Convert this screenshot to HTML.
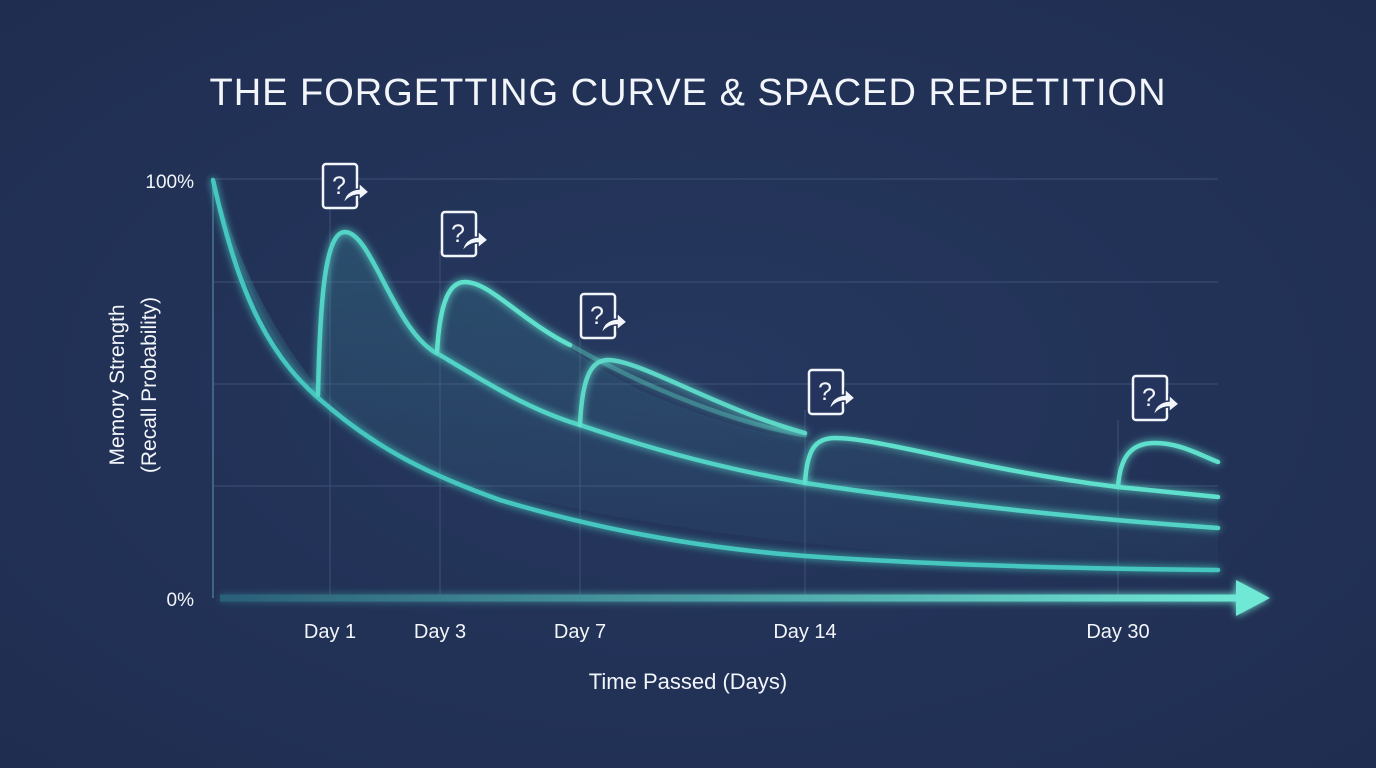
<!DOCTYPE html>
<html><head><meta charset="utf-8"><style>
html,body{margin:0;padding:0;width:1376px;height:768px;overflow:hidden;background:#23335a;}
svg{display:block}
text{font-family:"Liberation Sans",sans-serif;fill:#f2f5fa}
</style></head><body>
<svg width="1376" height="768" viewBox="0 0 1376 768">
<defs>
<radialGradient id="bg" cx="50%" cy="50%" r="70%">
<stop offset="0" stop-color="#26385f"/><stop offset="1" stop-color="#1f2d50"/>
</radialGradient>
<linearGradient id="ax" x1="0" x2="1"><stop offset="0" stop-color="#2a5f78"/><stop offset="1" stop-color="#6fe8d6"/></linearGradient>
<linearGradient id="fill" x1="0" x2="0" y1="0" y2="1"><stop offset="0" stop-color="#3d8a9a" stop-opacity="0.35"/><stop offset="1" stop-color="#3d8a9a" stop-opacity="0.05"/></linearGradient>
<filter id="glow" filterUnits="userSpaceOnUse" x="0" y="0" width="1376" height="768"><feGaussianBlur stdDeviation="4" result="b"/><feMerge><feMergeNode in="b"/><feMergeNode in="SourceGraphic"/></feMerge></filter>
<g id="ic"><rect x="0" y="0" width="34" height="44" rx="3" fill="#24345c" stroke="#f2f5fa" stroke-width="2.5"/><text x="16" y="30" font-size="25" text-anchor="middle">?</text><path d="M20 40 Q22 26 36 25 L36 19 L46 28 L36 36 L36 31 Q27 31 20 40Z" fill="#f2f5fa" stroke="#24345c" stroke-width="1.5"/></g>
</defs>
<rect width="1376" height="768" fill="url(#bg)"/>
<text x="688" y="105" font-size="38" text-anchor="middle" letter-spacing="1">THE FORGETTING CURVE &amp; SPACED REPETITION</text>
<g stroke="#4a5d86" stroke-width="1" opacity="0.7">
<line x1="212" y1="179" x2="1218" y2="179"/><line x1="212" y1="282" x2="1218" y2="282"/><line x1="212" y1="384" x2="1218" y2="384"/><line x1="212" y1="486" x2="1218" y2="486"/>
<line x1="330" y1="200" x2="330" y2="598"/><line x1="440" y1="250" x2="440" y2="598"/><line x1="580" y1="330" x2="580" y2="598"/><line x1="805" y1="410" x2="805" y2="598"/><line x1="1118" y1="420" x2="1118" y2="598"/>
<line x1="213" y1="180" x2="213" y2="598" stroke="#4f7a96" stroke-width="2"/>
</g>
<path d="M213 180 C240 290 280 360 318 395 C320 300 325 232 345 232 C370 232 395 330 437 352 C440 300 450 282 465 282 C500 282 540 340 640 390 C720 425 770 435 805 440 L1218 497 L1218 570 C900 560 600 530 430 470 C330 430 260 330 213 180Z" fill="url(#fill)"/>
<g fill="none" stroke="#5fe0cc" stroke-width="4.5" stroke-linecap="round" filter="url(#glow)">
<path d="M213 180 C240 300 270 360 330 408 C380 450 430 475 500 500 C600 530 700 548 805 556 C950 566 1100 569 1218 570" stroke="#45c7c0"/>
<path d="M318 395 C320 300 325 232 345 232 C372 232 395 335 440 355 C490 385 530 410 580 425 C660 452 730 470 805 483 C950 505 1100 520 1218 528" stroke="#52d3c6"/>
<path d="M437 352 C440 300 450 282 465 282 C490 282 520 320 570 345" />
<path d="M570 345 C650 390 740 425 805 435" stroke-opacity="0.35"/>
<path d="M580 425 C582 380 590 360 608 360 C640 360 720 410 805 433" stroke-opacity="0.9"/>
<path d="M805 483 C807 450 815 438 835 438 C880 438 980 470 1118 487 L1218 497"/>
<path d="M1118 487 C1120 458 1130 443 1155 443 C1180 443 1200 455 1218 462"/>
</g>
<g filter="url(#glow)">
<rect x="220" y="594.5" width="1025" height="7" fill="url(#ax)"/>
<path d="M1236 580 L1270 598 L1236 616Z" fill="#6fe8d6"/>
</g>
<use href="#ic" x="323" y="164"/><use href="#ic" x="442" y="212"/><use href="#ic" x="581" y="294"/><use href="#ic" x="809" y="370"/><use href="#ic" x="1133" y="376"/>
<text x="194" y="188" font-size="19" text-anchor="end">100%</text>
<text x="194" y="606" font-size="19" text-anchor="end">0%</text>
<g font-size="20" text-anchor="middle">
<text x="330" y="638">Day 1</text><text x="440" y="638">Day 3</text><text x="580" y="638">Day 7</text><text x="805" y="638">Day 14</text><text x="1118" y="638">Day 30</text>
<text x="688" y="689" font-size="22">Time Passed (Days)</text>
</g>
<g transform="translate(124,385) rotate(-90)" font-size="21" text-anchor="middle">
<text x="0" y="0">Memory Strength</text><text x="0" y="32">(Recall Probability)</text>
</g>
</svg>
</body></html>
